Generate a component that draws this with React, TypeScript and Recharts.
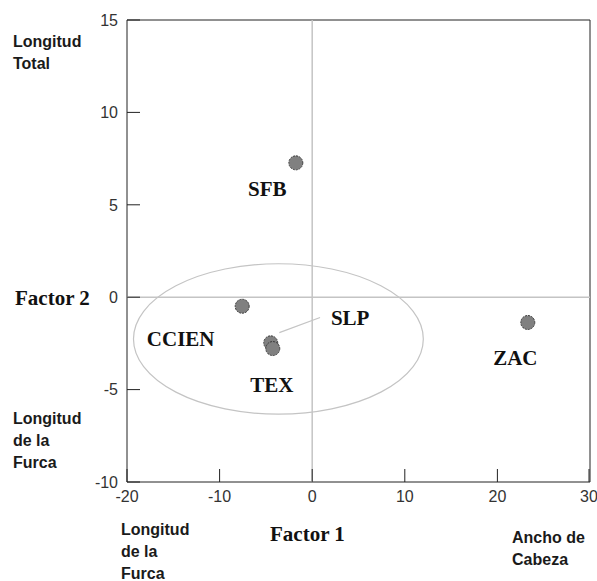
import {
  ScatterChart,
  Scatter,
  XAxis,
  YAxis,
  ReferenceLine,
  ReferenceArea,
} from "recharts";

// group centroids on the first two factors
const GROUPS = ["SFB", "CCIEN", "SLP", "SLP", "ZAC"];
const FACTOR1 = [-1.77, -7.56, -4.48, -4.26, 23.28];
const FACTOR2 = [7.27, -0.49, -2.47, -2.78, -1.37];

// group names written next to the points
const LABELS = ["SFB", "CCIEN", "SLP", "TEX", "ZAC"];
const LABEL_X = [-4.85, -14.2, 4.1, -4.37, 21.94];
const LABEL_Y = [5.88, -2.25, -1.15, -4.75, -3.28];

const X_TICKS = [-20, -10, 0, 10, 20, 30];
const Y_TICKS = [-10, -5, 0, 5, 10, 15];
const X_DOMAIN = [-20, 30];
const Y_DOMAIN = [-10, 15];

// confidence ellipse bounding box (data units)
const ELLIPSE = { x1: -19.3, x2: 12.0, y1: -6.33, y2: 1.81 };
// leader from the SLP label to its point
const SLP_LEADER = [
  { x: 0.85, y: -1.1 },
  { x: -3.55, y: -1.92 },
];

const points = GROUPS.map((g, i) => ({ name: g, x: FACTOR1[i], y: FACTOR2[i] }));
const labels = LABELS.map((l, i) => ({ name: l, x: LABEL_X[i], y: LABEL_Y[i] }));

const SANS = "'Liberation Sans', Arial, sans-serif";
const SERIF = "'Liberation Serif', 'Times New Roman', serif";
const FRAME = "#222";
const GUIDE = "#c4c4c4";

function Dot({ cx, cy }: any) {
  return (
    <circle
      cx={cx}
      cy={cy}
      r={7}
      fill="#808080"
      stroke="#3a3a3a"
      strokeWidth={1}
      strokeDasharray="2 1"
    />
  );
}

function GroupLabel({ cx, cy, payload }: any) {
  return (
    <text
      x={cx}
      y={cy + 7}
      textAnchor="middle"
      fontFamily={SERIF}
      fontWeight="bold"
      fontSize={21}
      fill="#111"
    >
      {payload.name}
    </text>
  );
}

function EllipseShape({ x, y, width, height }: any) {
  return (
    <ellipse
      cx={x + width / 2}
      cy={y + height / 2}
      rx={width / 2}
      ry={height / 2}
      fill="none"
      stroke={GUIDE}
      strokeWidth={1.2}
    />
  );
}

function YTick({ x, y, payload }: any) {
  return (
    <g>
      <line x1={x + 9} x2={x + 22} y1={y} y2={y} stroke={FRAME} />
      <text x={x} y={y} dy="0.36em" textAnchor="end" fontFamily={SANS} fontSize={16} fill="#333">
        {payload.value}
      </text>
    </g>
  );
}

function XTick({ x, y, payload }: any) {
  return (
    <g>
      <line x1={x} x2={x} y1={y - 8} y2={y - 21} stroke={FRAME} />
      <text x={x} y={y} dy="0.72em" textAnchor="middle" fontFamily={SANS} fontSize={16} fill="#333">
        {payload.value}
      </text>
    </g>
  );
}

function Note({ x, y, lines }: { x: number; y: number; lines: string[] }) {
  return (
    <text x={x} y={y} fontFamily={SANS} fontWeight="bold" fontSize={16} fill="#1a1a1a">
      {lines.map((l, i) => (
        <tspan key={i} x={x} dy={i === 0 ? 0 : 22}>
          {l}
        </tspan>
      ))}
    </text>
  );
}

export default function App() {
  return (
    <div style={{ position: "relative", width: 597, height: 581, background: "#fff" }}>
      <style>{`body{margin:0}`}</style>
      <ScatterChart width={597} height={581} margin={{ top: 20, right: 7, bottom: 69, left: 87 }}>
        <XAxis
          type="number"
          dataKey="x"
          domain={X_DOMAIN}
          ticks={X_TICKS}
          height={30}
          axisLine={false}
          tickLine={false}
          tickSize={0}
          tickMargin={8}
          tick={XTick}
          allowDataOverflow
        />
        <YAxis
          type="number"
          dataKey="y"
          domain={Y_DOMAIN}
          ticks={Y_TICKS}
          width={40}
          axisLine={false}
          tickLine={false}
          tickSize={0}
          tickMargin={9}
          tick={YTick}
          allowDataOverflow
        />
        <ReferenceLine x={0} stroke={GUIDE} strokeWidth={1.5} />
        <ReferenceLine y={0} stroke={GUIDE} strokeWidth={1.5} />
        <ReferenceArea
          x1={ELLIPSE.x1}
          x2={ELLIPSE.x2}
          y1={ELLIPSE.y1}
          y2={ELLIPSE.y2}
          shape={EllipseShape}
        />
        <ReferenceLine segment={SLP_LEADER} stroke={GUIDE} strokeWidth={1.2} />
        <ReferenceArea
          x1={X_DOMAIN[0]}
          x2={X_DOMAIN[1]}
          y1={Y_DOMAIN[0]}
          y2={Y_DOMAIN[1]}
          fill="none"
          fillOpacity={0}
          stroke={FRAME}
          strokeWidth={1}
        />
        <Scatter data={points} shape={Dot} isAnimationActive={false} />
        <Scatter data={labels} shape={GroupLabel} isAnimationActive={false} />
      </ScatterChart>
      <svg
        width={597}
        height={581}
        style={{ position: "absolute", left: 0, top: 0, pointerEvents: "none" }}
      >
        <Note x={13} y={47} lines={["Longitud", "Total"]} />
        <Note x={13} y={424} lines={["Longitud", "de la", "Furca"]} />
        <Note x={121} y={535} lines={["Longitud", "de la", "Furca"]} />
        <Note x={512} y={543} lines={["Ancho de", "Cabeza"]} />
        <text x={15} y={305} fontFamily={SERIF} fontWeight="bold" fontSize={21} fill="#111">
          Factor 2
        </text>
        <text x={270} y={541} fontFamily={SERIF} fontWeight="bold" fontSize={21} fill="#111">
          Factor 1
        </text>
      </svg>
    </div>
  );
}
